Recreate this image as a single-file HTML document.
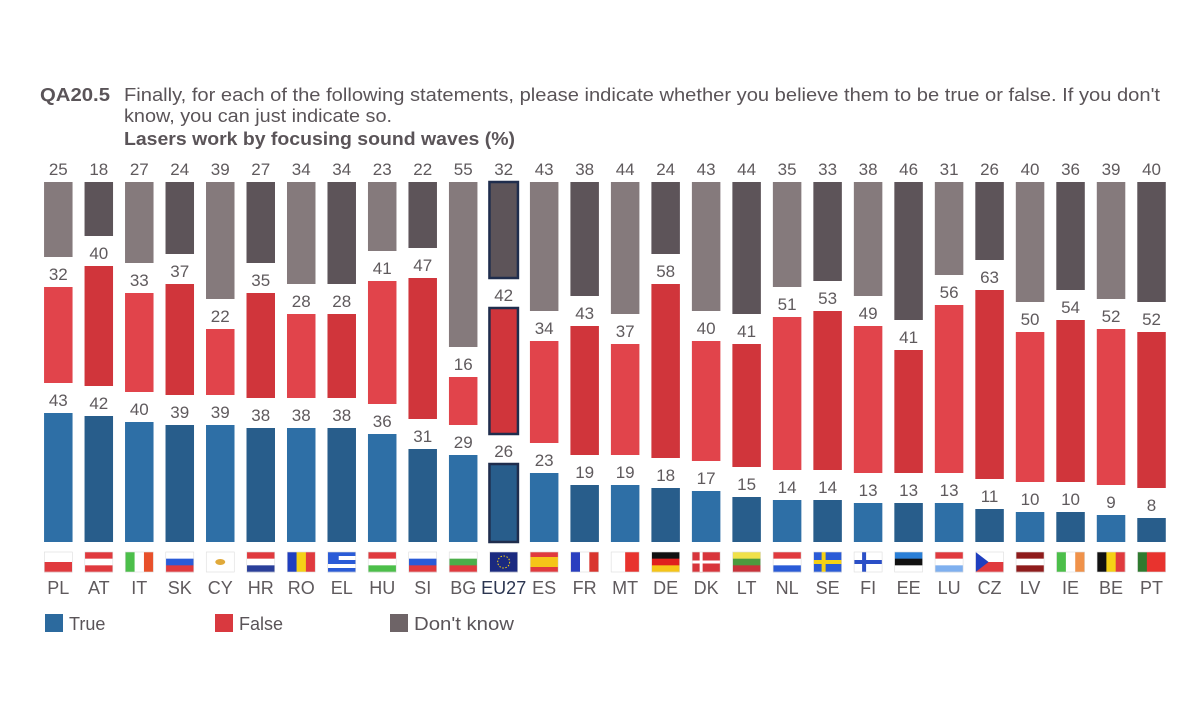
<!DOCTYPE html>
<html><head><meta charset="utf-8">
<style>
body{margin:0;background:#fff;width:1200px;height:708px;overflow:hidden;font-family:"Liberation Sans",sans-serif;}
svg text{font-family:"Liberation Sans",sans-serif;}
</style></head>
<body>
<svg id="chart" width="1200" height="708" xmlns="http://www.w3.org/2000/svg">
<text x="40" y="101" font-size="18" font-weight="bold" fill="#5a5458" textLength="70" lengthAdjust="spacingAndGlyphs">QA20.5</text>
<text x="124" y="101" font-size="18" fill="#5a5458" textLength="1036" lengthAdjust="spacingAndGlyphs">Finally, for each of the following statements, please indicate whether you believe them to be true or false. If you don't</text>
<text x="124" y="122" font-size="18" fill="#5a5458" textLength="268" lengthAdjust="spacingAndGlyphs">know, you can just indicate so.</text>
<text x="124" y="145" font-size="18" font-weight="bold" fill="#5a5458" textLength="391" lengthAdjust="spacingAndGlyphs">Lasers work by focusing sound waves (%)</text>
<g id="bars"></g>
<g id="legend">
<rect x="45" y="614" width="18" height="18" fill="#2c6a9e"/>
<text x="69" y="630" font-size="18" fill="#5a5458">True</text>
<rect x="215" y="614" width="18" height="18" fill="#d9393f"/>
<text x="239" y="630" font-size="18" fill="#5a5458">False</text>
<rect x="390" y="614" width="18" height="18" fill="#6e6467"/>
<text x="414" y="630" font-size="18" fill="#5a5458" textLength="100" lengthAdjust="spacingAndGlyphs">Don't know</text>
</g>
</svg>
<script>
const categories=["PL","AT","IT","SK","CY","HR","RO","EL","HU","SI","BG","EU27","ES","FR","MT","DE","DK","LT","NL","SE","FI","EE","LU","CZ","LV","IE","BE","PT"];
const trueVals=[43,42,40,39,39,38,38,38,36,31,29,26,23,19,19,18,17,15,14,14,13,13,13,11,10,10,9,8];
const falseVals=[32,40,33,37,22,35,28,28,41,47,16,42,34,43,37,58,40,41,51,53,49,41,56,63,50,54,52,52];
const dkVals=[25,18,27,24,39,27,34,34,23,22,55,32,43,38,44,24,43,44,35,33,38,46,31,26,40,36,39,40];
const flags={PL:["h","#fff","#e03a3e"],AT:["h","#e03a3e","#fff","#e03a3e"],IT:["v","#4cbf4a","#fff","#e8502a"],SK:["h","#fff","#2a5bd7","#e03a3e"],CY:["h","#fff","#fff"],HR:["h","#e03a3e","#fff","#2a3f9a"],RO:["v","#1f3fbf","#f5d116","#e03a3e"],EL:["h","#2a5bd7","#fff","#2a5bd7","#fff","#2a5bd7"],HU:["h","#e03a3e","#fff","#4cbf4a"],SI:["h","#fff","#2a5bd7","#e03a3e"],BG:["h","#fff","#4cae4a","#e03a3e"],EU27:["h","#1b2a80"],ES:["h","#e03a3e","#f5c518","#f5c518","#e03a3e"],FR:["v","#2a3fbf","#fff","#d9352e"],MT:["v","#fff","#e8332e"],DE:["h","#111","#e0201e","#f5c518"],DK:["h","#d8353b","#d8353b"],LT:["h","#f0e14a","#4c9a3e","#c8323a"],NL:["h","#e03a3e","#fff","#2a5bd7"],SE:["h","#2a5bd7","#2a5bd7"],FI:["h","#fff","#fff"],EE:["h","#2a7fd7","#111","#fff"],LU:["h","#e03a3e","#fff","#7fb0ef"],CZ:["h","#fff","#e03a3e"],LV:["h","#8f1c1c","#fff","#8f1c1c"],IE:["v","#4cbf4a","#fff","#f0924a"],BE:["v","#111","#f5d116","#e03a3e"],PT:["v","#2f7a2f","#e8332e","#e8332e"]};
const NS="http://www.w3.org/2000/svg";
const g=document.getElementById('bars');
const x0=58.3,pitch=40.49,bw=28.5,base=542,k=3.0,gap=30;
const xC=i=>x0+i*pitch;
const yH=v=>v*k;
function mk(t,a){const e=document.createElementNS(NS,t);for(const n in a)e.setAttribute(n,a[n]);return e;}
const light={t:"#2e6fa6",f:"#e1444b",d:"#857a7c"},dark={t:"#285d8b",f:"#d0353b",d:"#5d5459"};
categories.forEach((c,i)=>{
  const col=(i%2===0)?light:dark;
  const cx=xC(i),x=cx-bw/2;
  const isEU=c==="EU27";
  const segs=[["true",trueVals[i],col.t],["false",falseVals[i],col.f],["dont-know",dkVals[i],col.d]];
  let bottom=base;
  segs.forEach(([nm,v,fill])=>{
    const h=yH(v),top=bottom-h;
    const r=mk('rect',{x:x,y:top,width:bw,height:h,fill:fill});
    if(isEU){r.setAttribute('stroke','#1f2d4d');r.setAttribute('stroke-width','2.5');}
    
    
    g.appendChild(r);
    const t=mk('text',{x:cx,y:top-7,'text-anchor':'middle','font-size':'17',fill:'#5f5a5d'});
    t.textContent=v;
    
    
    g.appendChild(t);
    bottom=top-gap;
  });
  const fg=mk('g',{});
  
  
  const f=flags[c],fx=cx-14,fy=552,fw=28,fh=20;
  const n=f.length-1;
  for(let j=0;j<n;j++){
    if(f[0]==="h")fg.appendChild(mk('rect',{x:fx,y:fy+j*fh/n,width:fw,height:fh/n+0.3,fill:f[j+1]}));
    else fg.appendChild(mk('rect',{x:fx+j*fw/n,y:fy,width:fw/n+0.3,height:fh,fill:f[j+1]}));
  }
  if(c==="DK")fg.appendChild(mk('path',{d:`M${fx+9} ${fy}v${fh}M${fx} ${fy+10}h${fw}`,stroke:'#fff','stroke-width':3}));
  if(c==="SE")fg.appendChild(mk('path',{d:`M${fx+10} ${fy}v${fh}M${fx} ${fy+10}h${fw}`,stroke:'#f5d116','stroke-width':4}));
  if(c==="FI")fg.appendChild(mk('path',{d:`M${fx+10} ${fy}v${fh}M${fx} ${fy+10}h${fw}`,stroke:'#2a4fc7','stroke-width':4}));
  if(c==="CZ")fg.appendChild(mk('path',{d:`M${fx} ${fy}L${fx+13} ${fy+10}L${fx} ${fy+20}Z`,fill:'#1f3fbf'}));
  if(c==="EL")fg.appendChild(mk('rect',{x:fx,y:fy,width:11,height:11,fill:'#2a5bd7'}));
  if(c==="CY")fg.appendChild(mk('ellipse',{cx:cx,cy:fy+10,rx:5,ry:3,fill:'#e0a93a'}));
  if(c==="EU27")fg.appendChild(mk('circle',{cx:cx,cy:fy+10,r:6,fill:'none',stroke:'#f5d116','stroke-width':1,'stroke-dasharray':'1.5 1.6'}));
  fg.appendChild(mk('rect',{x:fx,y:fy,width:fw,height:fh,fill:'none',stroke:'#ddd','stroke-width':0.6}));
  g.appendChild(fg);
  const lb=mk('text',{x:cx,y:594,'text-anchor':'middle','font-size':'18',fill:isEU?'#2b3550':'#5f5a5d'});
  lb.textContent=c;
  
  
  g.appendChild(lb);
});
</script>
</body></html>
